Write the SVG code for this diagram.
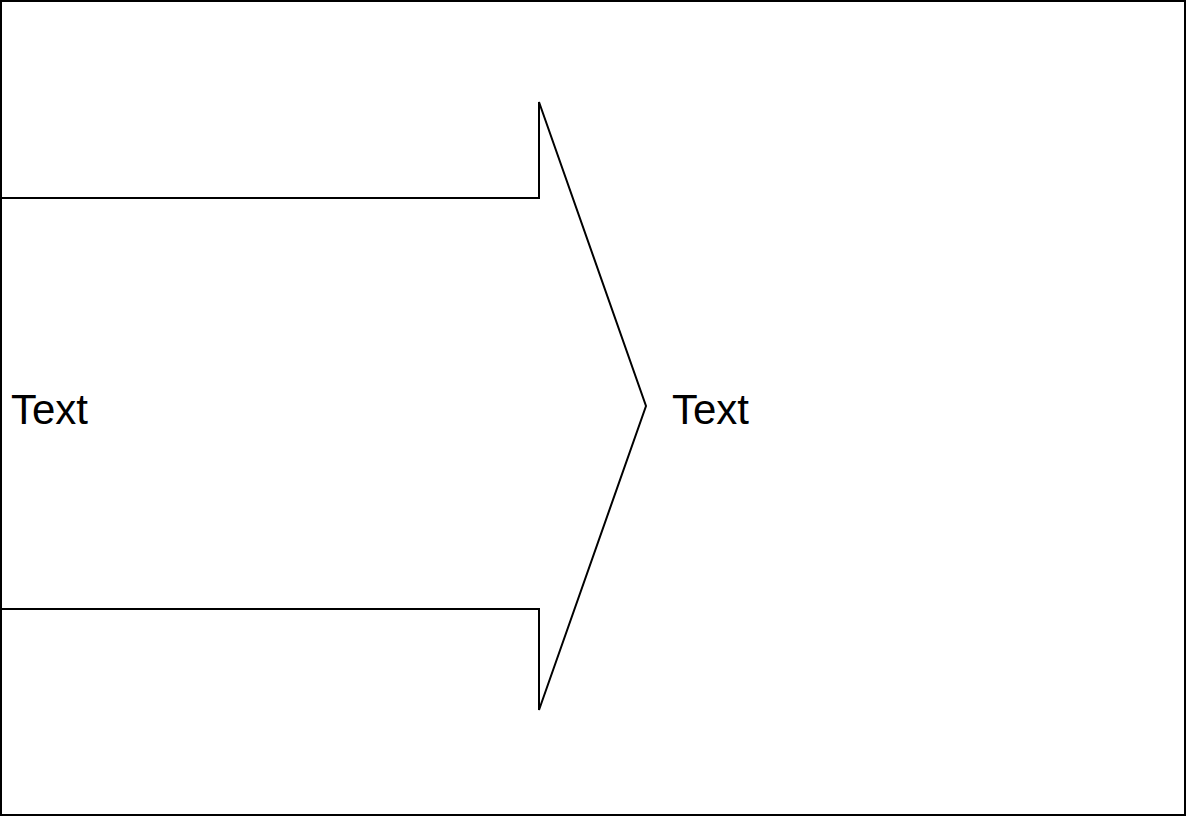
<svg xmlns="http://www.w3.org/2000/svg" width="1186" height="816" viewBox="0 0 1186 816">
<style>
.ln{fill:none;stroke:#000;stroke-width:2;stroke-linejoin:miter}
.t{font-family:"Liberation Sans",Arial,sans-serif;font-size:42px;fill:#000}
</style>
<rect x="0" y="0" width="1186" height="816" fill="#fff"/>
<g id="frame"><rect class="ln" x="1" y="1" width="1184" height="814"/></g>
<g id="arrow"><polyline class="ln" points="1,198 539,198 539,102 646,406 539,710 539,609 1,609"/></g>
<g id="label-left"><text class="t" x="11" y="424">Text</text></g>
<g id="label-right"><text class="t" x="672" y="424">Text</text></g>
<g id="connectors"></g>
</svg>
